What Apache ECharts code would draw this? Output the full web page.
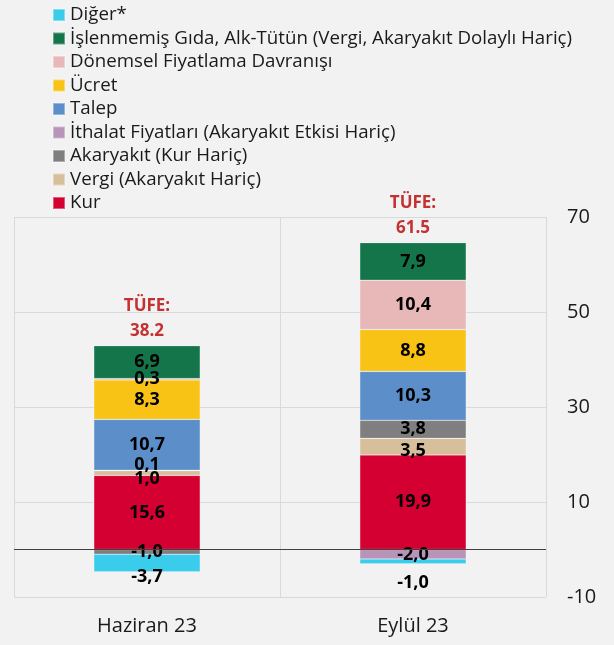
<!DOCTYPE html>
<html>
<head>
<meta charset="utf-8">
<script src="https://cdn.jsdelivr.net/npm/echarts@6/dist/echarts.min.js"></script>
<style>
  html, body { margin: 0; padding: 0; background: #f2f2f2; }
  #chart { width: 614px; height: 645px; }
</style>
</head>
<body>
<div id="chart"></div>
<script>
// kategoriler (x ekseni)
const categories = ['Haziran 23', 'Eylül 23']

// seriler, alttan üste yığın sırası
const seriesNames = [
  'Kur',
  'Vergi (Akaryakıt Hariç)',
  'Akaryakıt (Kur Hariç)',
  'İthalat Fiyatları (Akaryakıt Etkisi Hariç)',
  'Talep',
  'Ücret',
  'Dönemsel Fiyatlama Davranışı',
  'İşlenmemiş Gıda, Alk-Tütün (Vergi, Akaryakıt Dolaylı Hariç)',
  'Diğer*'
]
const kur = [15.6, 19.9]
const vergi = [1.0, 3.5]
const akaryakit = [-1.0, 3.8]
const ithalat = [0.1, -2.0]
const talep = [10.7, 10.3]
const ucret = [8.3, 8.8]
const donemsel = [0.3, 10.4]
const islenmemis = [6.9, 7.9]
const diger = [-3.7, -1.0]
const tufe = [38.2, 61.5]

const yTicks = { min: -10, max: 70, interval: 20 }

const seriesValues = [kur, vergi, akaryakit, ithalat, talep, ucret, donemsel, islenmemis, diger]
const colors = ['#D50032', '#D8BF9B', '#7F7F7F', '#B794B8', '#5C8FCA', '#F9C316', '#E8B8B8', '#14754A', '#3ACCEB']

// çakışan küçük etiketler için dikey kaydırma (seri -> [haziran, eylül])
const labelShift = {
  1: [6, 4],
  3: [-6, 1],
  8: [14, 21]
}

const fontFamily = '"Open Sans", "Noto Sans", sans-serif'
const fmt = v => v.toFixed(1).replace('.', ',')

const barSeries = seriesNames.map((name, i) => ({
  name,
  type: 'bar',
  stack: 'total',
  barWidth: '40%',
  itemStyle: { color: colors[i], borderColor: 'rgba(255,255,255,0.35)', borderWidth: 0.6 },
  label: {
    show: true,
    position: 'inside',
    color: '#000',
    fontWeight: 'bold',
    fontSize: 18,
    fontFamily,
    formatter: p => fmt(p.value)
  },
  data: seriesValues[i].map((v, j) => {
    const shift = labelShift[i] ? labelShift[i][j] : 0
    return shift ? { value: v, label: { offset: [0, shift] } } : v
  })
}))

// TÜFE yazısı için yığının en üst noktası
const stackTops = categories.map((c, j) =>
  seriesValues.reduce((s, arr) => s + (arr[j] > 0 ? arr[j] : 0), 0))

const chart = echarts.init(document.getElementById('chart'))
chart.setOption({
  backgroundColor: '#f2f2f2',
  animation: false,
  textStyle: { fontFamily },
  legend: {
    orient: 'vertical',
    left: 47,
    top: 0,
    itemWidth: 12,
    itemHeight: 12,
    itemGap: 3.5,
    icon: 'rect',
    data: seriesNames.slice().reverse(),
    textStyle: { fontSize: 18.7, color: '#1a1a1a', lineHeight: 20, fontFamily }
  },
  grid: { left: 14, right: 68, top: 217, bottom: 48 },
  xAxis: {
    type: 'category',
    data: categories,
    axisLine: { show: false },
    axisTick: { show: false },
    axisLabel: { fontSize: 20, color: '#1a1a1a', margin: 19, fontFamily },
    splitLine: { show: true, lineStyle: { color: '#d9d9d9', width: 1 } }
  },
  yAxis: {
    type: 'value',
    position: 'right',
    min: yTicks.min,
    max: yTicks.max,
    interval: yTicks.interval,
    axisLine: { show: false },
    axisTick: { show: false },
    axisLabel: { fontSize: 20, color: '#1a1a1a', margin: 21, fontFamily },
    splitLine: { lineStyle: { color: '#d9d9d9', width: 1 } }
  },
  series: [
    ...barSeries,
    {
      name: 'TÜFE',
      type: 'scatter',
      symbolSize: 0,
      z: 10,
      data: stackTops,
      label: {
        show: true,
        position: 'top',
        distance: 2,
        color: '#B80000',
        fontWeight: 'bold',
        fontSize: 17,
        lineHeight: 25,
        fontFamily,
        formatter: p => 'TÜFE:\n' + tufe[p.dataIndex].toFixed(1)
      },
      markLine: {
        silent: true,
        symbol: 'none',
        label: { show: false },
        lineStyle: { color: '#404040', width: 1, type: 'solid' },
        data: [{ yAxis: 0 }]
      }
    }
  ]
})
</script>
</body>
</html>
